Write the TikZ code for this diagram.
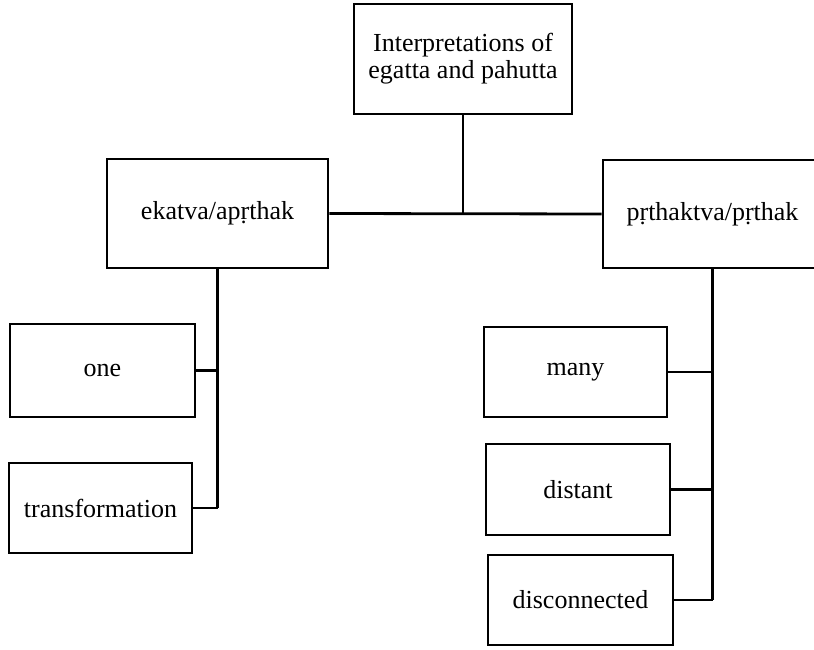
\documentclass[tikz,border=0pt]{standalone}
\usepackage{fontspec}
\setmainfont{Liberation Serif}
\begin{document}
\begin{tikzpicture}[x=1pt,y=-1pt,
  box/.style={draw,line width=2.8pt,inner sep=0pt,align=center,font=\fontsize{26}{27}\selectfont},
  conn/.style={line width=2.8pt}]
\useasboundingbox (0,0) rectangle (814,650);
\node[box,minimum width=218pt,minimum height=110pt] (top) at (463,59) {Interpretations of\\egatta and pahutta};
\node[box,minimum width=221pt,minimum height=109pt] (left) at (217.5,213.5) {ekatva/apṛthak};
\node[box,minimum width=219pt,minimum height=108pt] (right) at (712.5,214) {pṛthaktva/pṛthak};
\node[box,minimum width=185pt,minimum height=93pt] (one) at (102.5,370.5) {one};
\node[box,minimum width=183pt,minimum height=90pt] (trans) at (100.5,508) {transformation};
\node[box,minimum width=183pt,minimum height=90pt] (many) at (575.5,372) {many};
\node[box,minimum width=184pt,minimum height=91pt] (distant) at (578,489.5) {distant};
\node[box,minimum width=185pt,minimum height=90pt] (disc) at (580.5,600) {disconnected};
\draw[conn] (top.south) -- (top.south |- left.east);
\draw[conn] (left.east) -- (right.west);
\draw[conn] (left.south) -- (left.south |- trans.east);
\draw[conn] (one.east) -- (one.east -| left.south);
\draw[conn] (trans.east) -- (trans.east -| left.south);
\draw[conn] (right.south) -- (right.south |- disc.east);
\draw[conn] (many.east) -- (many.east -| right.south);
\draw[conn] (distant.east) -- (distant.east -| right.south);
\draw[conn] (disc.east) -- (disc.east -| right.south);
\end{tikzpicture}
\end{document}
